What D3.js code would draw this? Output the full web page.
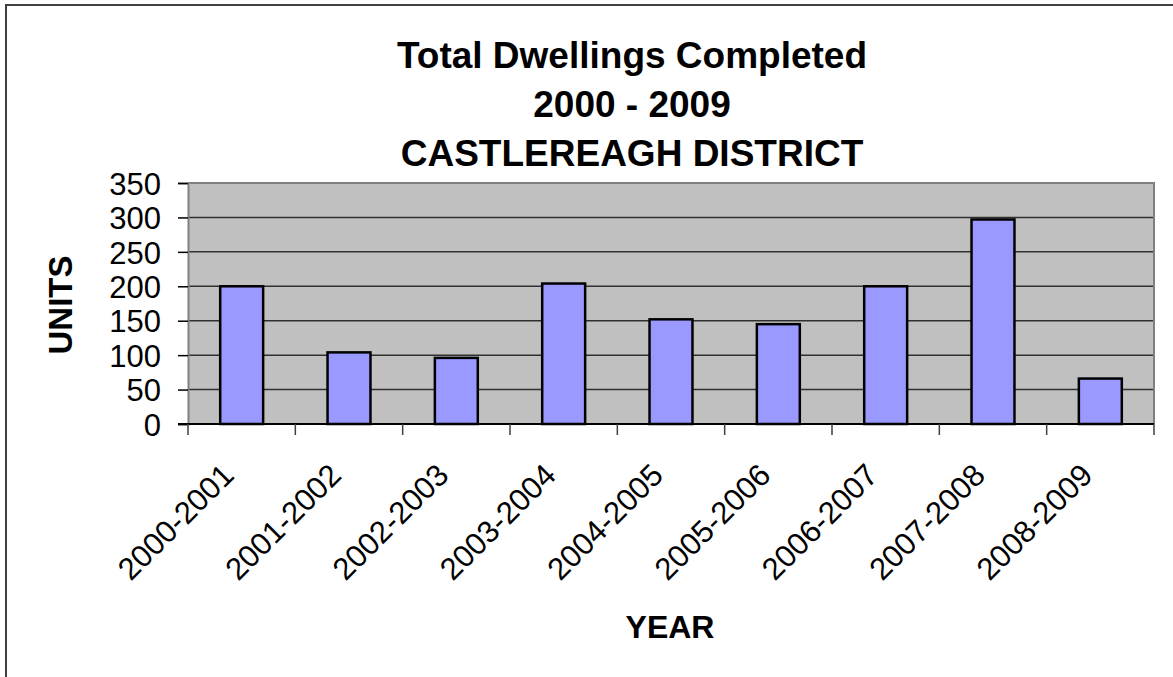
<!DOCTYPE html>
<html>
<head>
<meta charset="utf-8">
<script src="https://cdn.jsdelivr.net/npm/d3@7"></script>
<style>
  body { margin: 0; background: #fff; }
  text { font-family: "Liberation Sans", Arial, sans-serif; fill: #000; }
</style>
</head>
<body>
<svg id="chart"></svg>
<script>
// chart data
const years = ["2000-2001", "2001-2002", "2002-2003", "2003-2004", "2004-2005",
               "2005-2006", "2006-2007", "2007-2008", "2008-2009"];
const units = [200, 104, 96, 204, 152, 145, 200, 297, 66];
const yTicks = [0, 50, 100, 150, 200, 250, 300, 350];
const titleLines = ["Total Dwellings Completed", "2000 - 2009", "CASTLEREAGH DISTRICT"];

const width = 1173;
const height = 677;
const plot = { left: 188, right: 1154, top: 183, bottom: 424 };

const svg = d3.select("#chart")
    .attr("width", width)
    .attr("height", height);

// outer chart frame (runs off the picture on the right and bottom)
svg.append("rect")
    .attr("x", 6).attr("y", 5)
    .attr("width", width + 20).attr("height", height + 20)
    .attr("fill", "#fff")
    .attr("stroke", "#404040")
    .attr("stroke-width", 2);

// scales
const x = d3.scaleBand()
    .domain(years)
    .range([plot.left, plot.right])
    .paddingInner(0.6)
    .paddingOuter(0.3);

const xCat = d3.scaleBand()
    .domain(years)
    .range([plot.left, plot.right]);

const y = d3.scaleLinear()
    .domain([0, 350])
    .range([plot.bottom, plot.top]);

// plot background
svg.append("rect")
    .attr("x", plot.left).attr("y", plot.top)
    .attr("width", plot.right - plot.left)
    .attr("height", plot.bottom - plot.top)
    .attr("fill", "#c0c0c0");

// gridlines
svg.append("g")
    .selectAll("line")
    .data(yTicks.filter(d => d > 0 && d < 350))
    .enter()
    .append("line")
    .attr("x1", plot.left).attr("x2", plot.right)
    .attr("y1", d => y(d)).attr("y2", d => y(d))
    .attr("stroke", "#303030")
    .attr("stroke-width", 1.5);

// top and right border of plot
svg.append("path")
    .attr("d", `M${plot.left},${plot.top}H${plot.right}V${plot.bottom}`)
    .attr("fill", "none")
    .attr("stroke", "#808080")
    .attr("stroke-width", 2);

// bars
svg.append("g")
    .selectAll("rect")
    .data(units)
    .enter()
    .append("rect")
    .attr("x", (d, i) => x(years[i]))
    .attr("y", d => y(d))
    .attr("width", x.bandwidth())
    .attr("height", d => y(0) - y(d))
    .attr("fill", "#9999ff")
    .attr("stroke", "#000")
    .attr("stroke-width", 2.5);

// y axis
const yAxis = d3.axisLeft(y)
    .tickValues(yTicks)
    .tickSize(10)
    .tickPadding(17);
const gy = svg.append("g")
    .attr("transform", `translate(${plot.left},0)`)
    .call(yAxis);
gy.select(".domain").attr("stroke", "#808080").attr("stroke-width", 2);
gy.selectAll(".tick line").attr("stroke", "#000").attr("stroke-width", 1.5);
gy.selectAll(".tick text")
    .attr("font-size", 31)
    .attr("font-family", "Liberation Sans, Arial, sans-serif")
    .attr("dy", "0.36em");

// x axis line and ticks at category boundaries
svg.append("line")
    .attr("x1", plot.left - 10).attr("x2", plot.right)
    .attr("y1", plot.bottom).attr("y2", plot.bottom)
    .attr("stroke", "#000")
    .attr("stroke-width", 2);

const bounds = years.map(d => xCat(d)).concat([plot.right]);
svg.append("g")
    .selectAll("line")
    .data(bounds)
    .enter()
    .append("line")
    .attr("x1", d => d).attr("x2", d => d)
    .attr("y1", plot.bottom).attr("y2", plot.bottom + 11)
    .attr("stroke", "#404040")
    .attr("stroke-width", 1.5);

// x labels, rotated
svg.append("g")
    .selectAll("text")
    .data(years)
    .enter()
    .append("text")
    .attr("transform", d => `translate(${xCat(d) + xCat.bandwidth() / 2 - 6},477) rotate(-45)`)
    .attr("text-anchor", "end")
    .attr("font-size", 31)
    .text(d => d);

// title
svg.append("g")
    .selectAll("text")
    .data(titleLines)
    .enter()
    .append("text")
    .attr("x", 632)
    .attr("y", (d, i) => 68 + i * 49)
    .attr("text-anchor", "middle")
    .attr("font-size", 37)
    .attr("font-weight", "bold")
    .text(d => d);

// axis titles
svg.append("text")
    .attr("transform", "translate(72,305) rotate(-90)")
    .attr("text-anchor", "middle")
    .attr("font-size", 33)
    .attr("font-weight", "bold")
    .text("UNITS");

svg.append("text")
    .attr("x", 670)
    .attr("y", 638)
    .attr("text-anchor", "middle")
    .attr("font-size", 32)
    .attr("font-weight", "bold")
    .text("YEAR");
</script>
</body>
</html>
